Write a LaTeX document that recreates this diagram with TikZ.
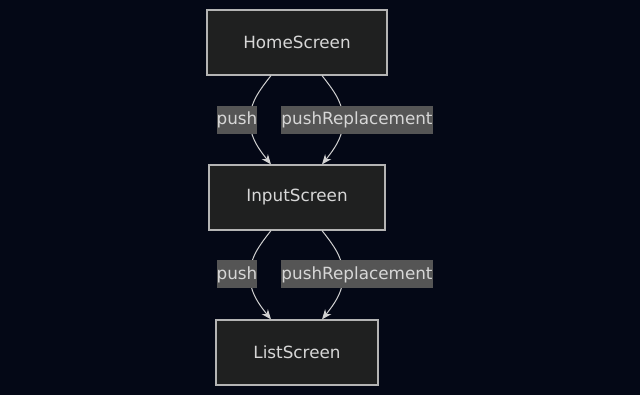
\documentclass[tikz,border=0pt]{standalone}
\usepackage{fontspec}
\setmainfont{DejaVu Sans}
\usetikzlibrary{calc,arrows.meta}
\definecolor{bgc}{RGB}{4,8,22}
\definecolor{nodefill}{RGB}{31,32,32}
\definecolor{nodeline}{RGB}{180,180,180}
\definecolor{txt}{RGB}{215,215,215}
\definecolor{lblfill}{RGB}{85,85,85}
\definecolor{edgec}{RGB}{210,210,210}
\begin{document}
\begin{tikzpicture}[x=0.75pt,y=-0.75pt,
  screen/.style={draw=nodeline,fill=nodefill,line width=0.9pt,text=txt,font=\fontsize{12.6}{14}\selectfont,minimum height=48.75pt,inner sep=0pt},
  lbl/.style={fill=lblfill,text=txt,font=\fontsize{12.6}{14}\selectfont,minimum height=21pt,inner sep=0pt},
  flow/.style={draw=edgec,line width=0.75pt,-{Stealth[length=7.5pt,width=6pt]}}]
\fill[bgc] (0,0) rectangle (640,395);
\useasboundingbox (0,0) rectangle (640,395);
\node[screen,minimum width=135pt] (home) at (297,42.5) {HomeScreen};
\node[screen,minimum width=132pt] (input) at (297,197.5) {InputScreen};
\node[screen,minimum width=121.5pt] (list) at (297,352.5) {ListScreen};
% edges home -> input
\draw[flow] ($(home.south)+(-26,0)$) .. controls ($(home.south)+(-42,20)$) and ($(home.south)+(-47,30)$) .. ($(home.south)+(-47,45)$) .. controls ($(input.north)+(-47,-30)$) and ($(input.north)+(-42,-20)$) .. ($(input.north)+(-26,0)$);
\draw[flow] ($(home.south)+(25,0)$) .. controls ($(home.south)+(41,20)$) and ($(home.south)+(46,30)$) .. ($(home.south)+(46,45)$) .. controls ($(input.north)+(46,-30)$) and ($(input.north)+(41,-20)$) .. ($(input.north)+(25,0)$);
\draw[flow] ($(input.south)+(-26,0)$) .. controls ($(input.south)+(-42,20)$) and ($(input.south)+(-47,30)$) .. ($(input.south)+(-47,45)$) .. controls ($(list.north)+(-47,-30)$) and ($(list.north)+(-42,-20)$) .. ($(list.north)+(-26,0)$);
\draw[flow] ($(input.south)+(25,0)$) .. controls ($(input.south)+(41,20)$) and ($(input.south)+(46,30)$) .. ($(input.south)+(46,45)$) .. controls ($(list.north)+(46,-30)$) and ($(list.north)+(41,-20)$) .. ($(list.north)+(25,0)$);
\node[lbl,minimum width=30pt] (l1) at (237,120) {push};
\node[lbl,minimum width=114pt] (l2) at (357,120) {pushReplacement};
\node[lbl,minimum width=30pt] (l3) at (237,274.5) {push};
\node[lbl,minimum width=114pt] (l4) at (357,274.5) {pushReplacement};
\end{tikzpicture}
\end{document}
